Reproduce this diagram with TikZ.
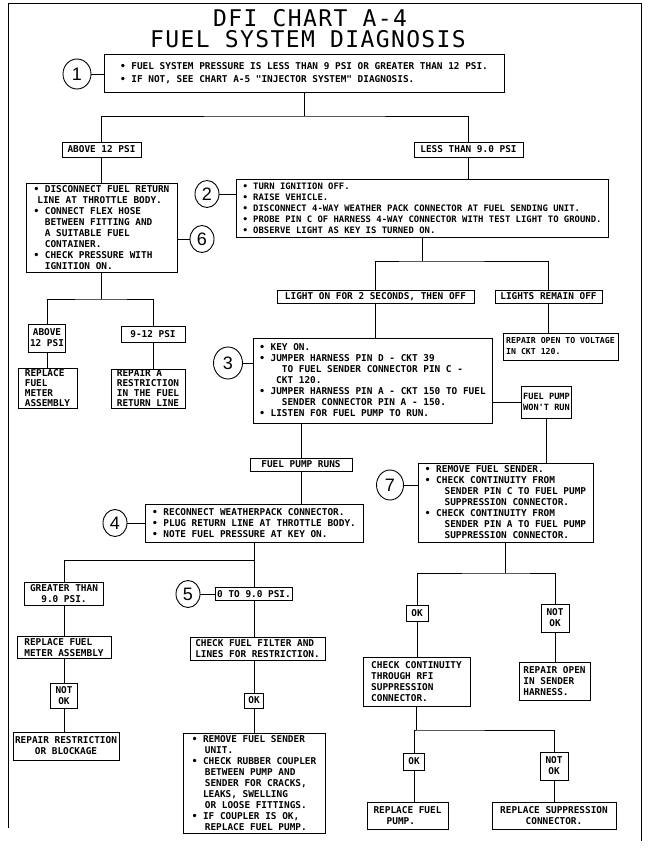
\documentclass[tikz,border=0pt]{standalone}
\usepackage{fontspec}
\usepackage{tikz}
\usetikzlibrary{shapes.geometric}
\newfontfamily\letterfont{DejaVu Sans Mono}
\newfontfamily\titlefamily[LetterSpace=6]{DejaVu Sans Mono}
\newfontfamily\digitfont{Liberation Sans}
\newcommand{\lettering}[2]{\letterfont\bfseries\fontsize{#1}{#2}\selectfont}
\newcommand{\titlefont}{\titlefamily\fontsize{23}{28}\selectfont}
\newcommand{\ind}[1]{\hspace*{#1em}}

\begin{document}
\begin{tikzpicture}[x=1pt, y=-1pt,
    chartbox/.style={draw, line width=1pt, font={\lettering{9.4}{11}}, align=left,
                     inner xsep=2pt, inner ysep=2pt},
    tagbox/.style={chartbox, align=center},
    numcirc/.style={ellipse, draw, line width=0.9pt, inner sep=0pt,
                    font={\digitfont\fontsize{18}{18}\selectfont}},
    wire/.style={line width=0.9pt}
  ]
  \useasboundingbox (0,0) rectangle (655,867);
  \draw[wire] (8,828) -- (8,3) -- (641,3) -- (641,841);

  \node[font=\titlefont, inner sep=0pt] (t1) at (310,18.5) {DFI CHART A-4};
  \node[font=\titlefont, inner sep=0pt] (t2) at (308,39.5) {FUEL SYSTEM DIAGNOSIS};

  \node[numcirc, minimum width=28pt, minimum height=30pt] (c1) at (77,74) {1};
  \node[chartbox, minimum width=400pt, minimum height=37pt, font={\lettering{9.4}{13}}] (b1) at (304,73.5)
    {\textbullet\ FUEL SYSTEM PRESSURE IS LESS THAN 9 PSI OR GREATER THAN 12 PSI.\\
     \textbullet\ IF NOT, SEE CHART A-5 "INJECTOR SYSTEM" DIAGNOSIS.};

  \node[tagbox, minimum width=79pt, minimum height=15pt] (ab12) at (101.5,149.5) {ABOVE 12 PSI};
  \node[tagbox, minimum width=109pt, minimum height=15pt] (lt9) at (468.5,149.5) {LESS THAN 9.0 PSI};

  \node[chartbox, minimum width=151pt, minimum height=89pt] (b6) at (101.5,227.5)
    {\textbullet\ DISCONNECT FUEL RETURN\\ \ind{0.4}LINE AT THROTTLE BODY.\\
     \textbullet\ CONNECT FLEX HOSE\\ \ind{1.2}BETWEEN FITTING AND\\ \ind{1.2}A SUITABLE FUEL\\
     \ind{1.2}CONTAINER.\\ \textbullet\ CHECK PRESSURE WITH\\ \ind{1.2}IGNITION ON.};
  \node[numcirc, minimum width=24pt, minimum height=27pt] (c6) at (202,239) {6};
  \node[numcirc, minimum width=24pt, minimum height=27pt] (c2) at (207,194) {2};
  \node[chartbox, minimum width=372pt, minimum height=58pt, font={\lettering{8.9}{11}}] (b2) at (422,208)
    {\textbullet\ TURN IGNITION OFF.\\ \textbullet\ RAISE VEHICLE.\\
     \textbullet\ DISCONNECT 4-WAY WEATHER PACK CONNECTOR AT FUEL SENDING UNIT.\\
     \textbullet\ PROBE PIN C OF HARNESS 4-WAY CONNECTOR WITH TEST LIGHT TO GROUND.\\
     \textbullet\ OBSERVE LIGHT AS KEY IS TURNED ON.};

  \node[tagbox, minimum width=37pt, minimum height=28pt] (a12s) at (47,338) {ABOVE\\12 PSI};
  \node[tagbox, minimum width=64pt, minimum height=16pt] (p912) at (153,334) {9-12 PSI};
  \node[chartbox, minimum width=59pt, minimum height=39pt, inner ysep=1pt, font={\lettering{9.4}{10}}] (rfm) at (47.5,388.5)
    {REPLACE\\FUEL\\METER\\ASSEMBLY};
  \node[chartbox, minimum width=74pt, minimum height=39pt, inner ysep=1pt, font={\lettering{9.4}{10}}] (rar) at (148,388.5)
    {REPAIR A\\RESTRICTION\\IN THE FUEL\\RETURN LINE};

  \node[tagbox, minimum width=197pt, minimum height=13pt] (lro) at (375.5,296.5) {LIGHT ON FOR 2 SECONDS, THEN OFF};
  \node[tagbox, minimum width=107pt, minimum height=13pt] (lrf) at (548.5,296.5) {LIGHTS REMAIN OFF};
  \node[chartbox, minimum width=115pt, minimum height=27pt, font={\lettering{8.2}{11}}] (rov) at (560.5,346.5)
    {REPAIR OPEN TO VOLTAGE\\IN CKT 120.};

  \node[numcirc, minimum width=29pt, minimum height=32pt] (c3) at (228,363) {3};
  \node[chartbox, minimum width=239pt, minimum height=85pt] (b3) at (372.5,380.5)
    {\textbullet\ KEY ON.\\ \textbullet\ JUMPER HARNESS PIN D - CKT 39\\
     \ind{2.4}TO FUEL SENDER CONNECTOR PIN C -\\ \ind{1.8}CKT 120.\\
     \textbullet\ JUMPER HARNESS PIN A - CKT 150 TO FUEL\\ \ind{2.4}SENDER CONNECTOR PIN A - 150.\\
     \textbullet\ LISTEN FOR FUEL PUMP TO RUN.};
  \node[chartbox, minimum width=49pt, minimum height=32pt, font={\lettering{8.6}{11}}] (fpw) at (546.5,402)
    {FUEL PUMP\\WON'T RUN};
  \node[tagbox, minimum width=102pt, minimum height=13pt] (fpr) at (301,464.5) {FUEL PUMP RUNS};

  \node[numcirc, minimum width=27pt, minimum height=30pt] (c7) at (390,485) {7};
  \node[chartbox, minimum width=175pt, minimum height=79pt] (b7) at (505.5,502.5)
    {\textbullet\ REMOVE FUEL SENDER.\\ \textbullet\ CHECK CONTINUITY FROM\\
     \ind{2.1}SENDER PIN C TO FUEL PUMP\\ \ind{2.1}SUPPRESSION CONNECTOR.\\
     \textbullet\ CHECK CONTINUITY FROM\\ \ind{2.1}SENDER PIN A TO FUEL PUMP\\
     \ind{2.1}SUPPRESSION CONNECTOR.};

  \node[numcirc, minimum width=24pt, minimum height=27pt] (c4) at (115,523) {4};
  \node[chartbox, minimum width=218pt, minimum height=38pt] (b4) at (254,523)
    {\textbullet\ RECONNECT WEATHERPACK CONNECTOR.\\
     \textbullet\ PLUG RETURN LINE AT THROTTLE BODY.\\
     \textbullet\ NOTE FUEL PRESSURE AT KEY ON.};

  \node[tagbox, minimum width=79pt, minimum height=23pt] (gt) at (64,593.5) {GREATER THAN\\9.0 PSI.};
  \node[numcirc, minimum width=24pt, minimum height=27pt] (c5) at (188,594) {5};
  \node[tagbox, minimum width=76pt, minimum height=13pt] (o9) at (254,594) {0 TO 9.0 PSI.};
  \node[chartbox, minimum width=94pt, minimum height=21pt, inner ysep=1.5pt] (rfm2) at (64,647.5)
    {REPLACE FUEL\\METER ASSEMBLY};
  \node[tagbox, minimum width=27pt, minimum height=25pt] (nok3) at (64,695.5) {NOT\\OK};
  \node[tagbox, minimum width=106pt, minimum height=28pt] (rrb) at (66,746) {REPAIR RESTRICTION\\OR BLOCKAGE};
  \node[chartbox, minimum width=135pt, minimum height=23pt, inner ysep=1.5pt] (cff) at (257.5,648.5)
    {CHECK FUEL FILTER AND\\LINES FOR RESTRICTION.};
  \node[tagbox, minimum width=19pt, minimum height=15pt] (ok3) at (254,700.5) {OK};
  \node[chartbox, minimum width=142pt, minimum height=100pt] (rfs) at (254,783)
    {\textbullet\ REMOVE FUEL SENDER\\ \ind{1.4}UNIT.\\ \textbullet\ CHECK RUBBER COUPLER\\
     \ind{1.4}BETWEEN PUMP AND\\ \ind{1.4}SENDER FOR CRACKS,\\ \ind{1.2}LEAKS, SWELLING\\
     \ind{1.4}OR LOOSE FITTINGS.\\ \textbullet\ IF COUPLER IS OK,\\ \ind{1.4}REPLACE FUEL PUMP.};

  \node[tagbox, minimum width=22pt, minimum height=16pt] (ok1) at (417,613) {OK};
  \node[tagbox, minimum width=28pt, minimum height=28pt] (nok1) at (555,618) {NOT\\OK};
  \node[chartbox, minimum width=107pt, minimum height=49pt] (ccr) at (416.5,681.5)
    {CHECK CONTINUITY\\THROUGH RFI\\SUPPRESSION\\CONNECTOR.};
  \node[chartbox, minimum width=71pt, minimum height=38pt] (rosh) at (554.5,681)
    {REPAIR OPEN\\IN SENDER\\HARNESS.};
  \node[tagbox, minimum width=21pt, minimum height=17pt] (ok2) at (414,761.5) {OK};
  \node[tagbox, minimum width=28pt, minimum height=28pt] (nok2) at (554,766) {NOT\\OK};
  \node[chartbox, minimum width=81pt, minimum height=27pt] (rfp) at (407.5,815.5) {REPLACE FUEL\\ \ind{1.4}PUMP.};
  \node[tagbox, minimum width=124pt, minimum height=27pt] (rsc) at (554,815.5) {REPLACE SUPPRESSION\\CONNECTOR.};

  \coordinate (j1) at (304,116);
  \coordinate (j2) at (422,261);
  \coordinate (j6) at (101.5,299);
  \coordinate (j4) at (254,560);
  \coordinate (j7) at (505.5,573);
  \coordinate (j8) at (416.5,730);

  \foreach \c/\b in {c1/b1, c2/b2, c3/b3, c4/b4, c5/o9, c7/b7} {
    \draw[wire] (\c.east) -- (\c.east -| \b.west);
  }
  \draw[wire] (b6.east |- c6.west) -- (c6.west);
  \draw[wire] (b1.south) -- (j1) (ab12.north) |- (j1) -| (lt9.north);
  \draw[wire] (ab12.south) -- (b6.north);
  \draw[wire] (lt9.south) -- (lt9.south |- b2.north);
  \draw[wire] (b6.south) -- (j6) (a12s.north) |- (j6) -| (p912.north);
  \draw[wire] (a12s.south) -- (a12s.south |- rfm.north);
  \draw[wire] (p912.south) -- (p912.south |- rar.north);
  \draw[wire] (b2.south) -- (j2) (lro.north) |- (j2) -| (lrf.north);
  \draw[wire] (lro.south) -- (lro.south |- b3.north);
  \draw[wire] (lrf.south) -- (lrf.south |- rov.north);
  \draw[wire] (b3.east |- fpw.west) -- (fpw.west);
  \draw[wire] (fpw.south) -- (fpw.south |- b7.north);
  \draw[wire] (fpr.north) -- (fpr.north |- b3.south);
  \draw[wire] (fpr.south) -- (fpr.south |- b4.north);
  \draw[wire] (b4.south) -- (o9.north) (gt.north) |- (j4);
  \draw[wire] (gt.south) -- (rfm2.north) (rfm2.south) -- (nok3.north);
  \draw[wire] (nok3.south) -- (nok3.south |- rrb.north);
  \draw[wire] (o9.south) -- (o9.south |- cff.north) (ok3.north) -- (ok3.north |- cff.south);
  \draw[wire] (ok3.south) -- (rfs.north);
  \draw[wire] (b7.south) -- (j7) (ok1.north) |- (j7) -| (nok1.north);
  \draw[wire] (ccr.south) -- (j8) (ok2.north) |- (j8) -| (nok2.north);
  \draw[wire] (ok2.south) -- (ok2.south |- rfp.north);
  \foreach \a/\b in {ok1/ccr, nok1/rosh, nok2/rsc} {
    \draw[wire] (\a.south) -- (\a.south |- \b.north);
  }
\end{tikzpicture}
\end{document}
